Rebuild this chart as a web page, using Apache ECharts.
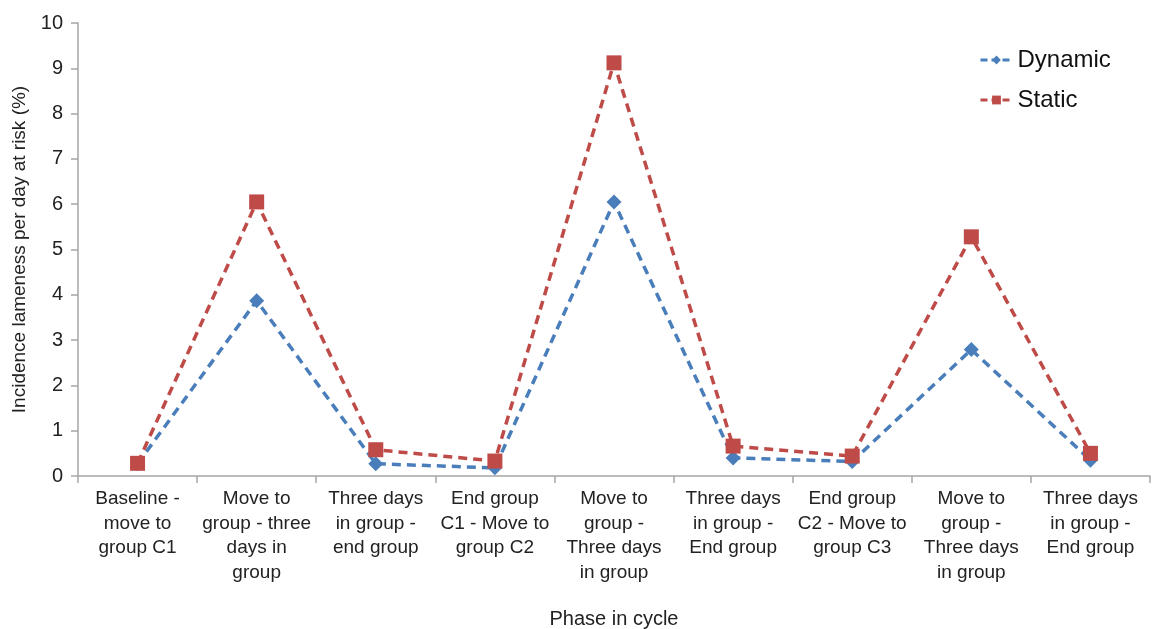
<!DOCTYPE html>
<html>
<head>
<meta charset="utf-8">
<script src="https://cdn.jsdelivr.net/npm/echarts@6/dist/echarts.min.js"></script>
<style>
  html, body { margin: 0; padding: 0; background: #fff; }
  #chart { width: 1168px; height: 629px; }
</style>
</head>
<body>
<div id="chart"></div>
<script>
// Phases of the grouping cycle
const categories = [
  'Baseline -\nmove to\ngroup C1',
  'Move to\ngroup - three\ndays in\ngroup',
  'Three days\nin group -\nend group',
  'End group\nC1 - Move to\ngroup C2',
  'Move to\ngroup -\nThree days\nin group',
  'Three days\nin group -\nEnd group',
  'End group\nC2 - Move to\ngroup C3',
  'Move to\ngroup -\nThree days\nin group',
  'Three days\nin group -\nEnd group'
];

// Incidence of lameness per day at risk (%)
const dynamicValues = [0.27, 3.87, 0.27, 0.18, 6.05, 0.40, 0.32, 2.79, 0.35];
const staticValues  = [0.28, 6.05, 0.58, 0.33, 9.12, 0.66, 0.44, 5.28, 0.50];

const BLUE = '#4a7ebb';
const RED = '#be4b48';
const FONT = '"Liberation Sans", Arial, sans-serif';

const chart = echarts.init(document.getElementById('chart'));
chart.setOption({
  animation: false,
  backgroundColor: '#fff',
  grid: { left: 78, right: 18, top: 23, bottom: 153, outerBoundsMode: 'none', containLabel: false },
  legend: {
    orient: 'vertical',
    left: 974,
    top: 43,
    itemGap: 16,
    itemWidth: 32,
    itemHeight: 11,
    lineStyle: { type: [7, 4], width: 3 },
    textStyle: { fontFamily: FONT, fontSize: 24, color: '#111' },
    data: ['Dynamic', 'Static']
  },
  xAxis: {
    type: 'category',
    data: categories,
    boundaryGap: true,
    name: 'Phase in cycle',
    nameLocation: 'middle',
    nameGap: 133,
    nameTextStyle: { fontFamily: FONT, fontSize: 20, color: '#222' },
    axisLine: { lineStyle: { color: '#a6a6a6', width: 1.5 } },
    axisTick: { show: true, alignWithLabel: false, length: 7, lineStyle: { color: '#a6a6a6', width: 1.5 } },
    axisLabel: { interval: 0, fontFamily: FONT, fontSize: 19, color: '#222', lineHeight: 24.5, margin: 11 }
  },
  yAxis: {
    type: 'value',
    min: 0,
    max: 10,
    interval: 1,
    name: 'Incidence lameness per day at risk (%)',
    nameLocation: 'middle',
    nameGap: 49,
    nameTextStyle: { fontFamily: FONT, fontSize: 19, color: '#222' },
    axisLine: { show: true, lineStyle: { color: '#a6a6a6', width: 1.5 } },
    axisTick: { show: true, length: 7, lineStyle: { color: '#a6a6a6', width: 1.5 } },
    splitLine: { show: false },
    axisLabel: { fontFamily: FONT, fontSize: 20, color: '#222', margin: 15 }
  },
  series: [
    {
      name: 'Dynamic',
      type: 'line',
      data: dynamicValues,
      symbol: 'diamond',
      symbolSize: 15,
      itemStyle: { color: BLUE },
      lineStyle: { color: BLUE, width: 3.5, type: [9, 6] },
      z: 2
    },
    {
      name: 'Static',
      type: 'line',
      data: staticValues,
      symbol: 'rect',
      symbolSize: 15,
      itemStyle: { color: RED },
      lineStyle: { color: RED, width: 3.5, type: [9, 6] },
      z: 3
    }
  ]
});
</script>
</body>
</html>
